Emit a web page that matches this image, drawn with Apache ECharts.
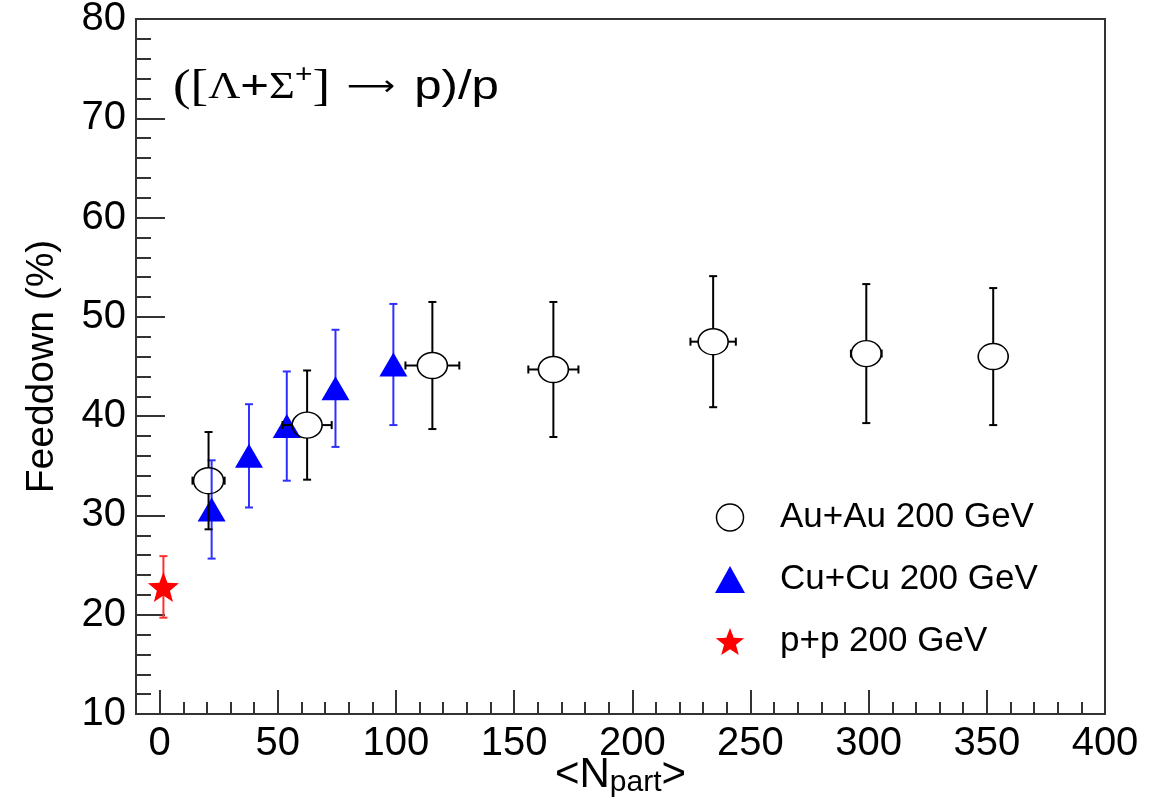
<!DOCTYPE html>
<html>
<head>
<meta charset="utf-8">
<script src="https://cdn.jsdelivr.net/npm/echarts@6/dist/echarts.min.js"></script>
<style>
  html, body { margin: 0; padding: 0; background: #fff; }
  #chart { width: 1149px; height: 804px; }
</style>
</head>
<body>
<div id="chart"></div>
<script>
// ---- data ----
const auNpart = [20.7, 62.4, 115.4, 166.6, 234.2, 299.0, 352.7];
const auFeed  = [33.5, 39.1, 45.1, 44.7, 47.5, 46.3, 46.0];
const auErrY  = [4.9, 5.5, 6.4, 6.8, 6.6, 7.0, 6.9];
const auErrX  = [6.8, 10.4, 11.4, 10.6, 9.6, 6.5, 0];

const cuNpart = [22.0, 37.8, 53.8, 74.4, 98.9];
const cuFeed  = [30.6, 36.0, 39.0, 42.8, 45.2];
const cuErrY  = [4.95, 5.2, 5.5, 5.9, 6.1];
const cuErrX  = [0, 0, 0, 0, 0];

const ppNpart = [1.6];
const ppFeed  = [22.8];
const ppErrY  = [3.1];
const ppErrX  = [0];

const seriesNames = ['Au+Au 200 GeV', 'Cu+Cu 200 GeV', 'p+p 200 GeV'];
const xMajorTicks = [0, 50, 100, 150, 200, 250, 300, 350, 400];
const xMinorTicks = [10, 20, 30, 40, 60, 70, 80, 90, 110, 120, 130, 140, 160, 170, 180, 190,
                     210, 220, 230, 240, 260, 270, 280, 290, 310, 320, 330, 340, 360, 370, 380, 390];

const STAR = 'path://M50 0 L62.5 33 L97.55 34.55 L70 56.5 L79.39 90.45 L50 71 L20.61 90.45 L30 56.5 L2.45 34.55 L37.5 33 Z';
const SANS = 'Liberation Sans';
const SERIF = 'Liberation Serif';

function rows(xs, ys, eys, exs) {
  return xs.map((x, i) => [x, ys[i], eys[i], exs[i]]);
}
function points(xs, ys) {
  return xs.map((x, i) => [x, ys[i]]);
}

function errRender(color, width, gapY, gapX, cap) {
  return function (params, api) {
    const x = api.value(0), y = api.value(1), ey = api.value(2), ex = api.value(3);
    const c = api.coord([x, y]);
    const t = api.coord([x, y + ey]);
    const b = api.coord([x, y - ey]);
    const l = api.coord([x - ex, y]);
    const r = api.coord([x + ex, y]);
    const style = { stroke: color, lineWidth: width, fill: null };
    const ch = [];
    if (ey > 0) {
      if (t[1] < c[1] - gapY) ch.push({ type: 'line', shape: { x1: c[0], y1: t[1], x2: c[0], y2: c[1] - gapY }, style });
      if (b[1] > c[1] + gapY) ch.push({ type: 'line', shape: { x1: c[0], y1: c[1] + gapY, x2: c[0], y2: b[1] }, style });
      ch.push({ type: 'line', shape: { x1: c[0] - cap, y1: t[1], x2: c[0] + cap, y2: t[1] }, style });
      ch.push({ type: 'line', shape: { x1: c[0] - cap, y1: b[1], x2: c[0] + cap, y2: b[1] }, style });
    }
    if (ex > 0) {
      if (l[0] < c[0] - gapX) ch.push({ type: 'line', shape: { x1: l[0], y1: c[1], x2: c[0] - gapX, y2: c[1] }, style });
      if (r[0] > c[0] + gapX) ch.push({ type: 'line', shape: { x1: c[0] + gapX, y1: c[1], x2: r[0], y2: c[1] }, style });
      ch.push({ type: 'line', shape: { x1: l[0], y1: c[1] - cap, x2: l[0], y2: c[1] + cap }, style });
      ch.push({ type: 'line', shape: { x1: r[0], y1: c[1] - cap, x2: r[0], y2: c[1] + cap }, style });
    }
    return { type: 'group', children: ch };
  };
}

const chart = echarts.init(document.getElementById('chart'), null, { renderer: 'canvas' });

const axisLineStyle = { color: '#333', width: 2 };

chart.setOption({
  animation: false,
  backgroundColor: '#fff',
  graphic: [
    {
      type: 'text',
      left: 173,
      top: 63,
      scaleX: 1.2,
      z: 100,
      style: {
        text: '{s|([}{g|Λ}{p|+}{g|Σ}{sup|+}{s|]}{a|⟶}{p|p)/p}',
        rich: {
          s: { fontFamily: SERIF, fontSize: 44, fill: '#000', lineHeight: 50 },
          g: { fontFamily: SERIF, fontSize: 37, fill: '#000', lineHeight: 50 },
          a: { fontFamily: 'DejaVu Sans', fontSize: 28, fill: '#000', lineHeight: 50, padding: [0, 16, 0, 14] },
          p: { fontFamily: SANS, fontSize: 41, fill: '#000', lineHeight: 50 },
          sup: { fontFamily: SANS, fontSize: 25, fill: '#000', lineHeight: 25, verticalAlign: 'top', padding: [0, 0, 22, 0] }
        }
      }
    }
  ],
  legend: {
    orient: 'vertical',
    left: 710,
    top: 495,
    itemWidth: 30,
    itemHeight: 27,
    itemGap: 27,
    selectedMode: false,
    textStyle: { fontFamily: SANS, fontSize: 35, color: '#000', padding: [0, 0, 0, 30] },
    data: [
      { name: seriesNames[0], icon: 'circle', itemStyle: { color: 'rgba(255,255,255,0)', borderColor: '#000', borderWidth: 1.5 } },
      { name: seriesNames[1], icon: 'triangle', itemStyle: { color: '#0000ff' } },
      { name: seriesNames[2], icon: STAR, itemStyle: { color: '#ff0000' } }
    ]
  },
  grid: {
    left: 136, right: 44, top: 19, bottom: 90,
    outerBoundsMode: 'none',
    containLabel: false,
    show: true, borderColor: '#333', borderWidth: 2, backgroundColor: '#fff'
  },
  xAxis: [
    {
      type: 'value', min: -10, max: 400, position: 'bottom',
      axisLine: { show: true, onZero: false, lineStyle: axisLineStyle },
      axisTick: { show: true, inside: true, length: 24, customValues: xMajorTicks, lineStyle: axisLineStyle },
      axisLabel: { customValues: xMajorTicks, fontFamily: SANS, fontSize: 40, color: '#000', margin: 10 },
      splitLine: { show: false },
      name: '{n|<N}{sub|part}{n|>}',
      nameLocation: 'middle',
      nameGap: 38,
      nameMoveOverlap: false,
      nameTextStyle: {
        rich: {
          n: { fontFamily: SANS, fontSize: 42, color: '#000', lineHeight: 46 },
          sub: { fontFamily: SANS, fontSize: 30, color: '#000', lineHeight: 30, verticalAlign: 'bottom', padding: [14, 0, 0, 0] }
        }
      }
    },
    {
      type: 'value', min: -10, max: 400, position: 'bottom', gridIndex: 0,
      axisLine: { show: false },
      axisTick: { show: true, inside: true, length: 12, customValues: xMinorTicks, lineStyle: axisLineStyle },
      axisLabel: { show: false },
      splitLine: { show: false }
    }
  ],
  yAxis: {
    type: 'value', min: 10, max: 80, interval: 10,
    axisLine: { show: true, onZero: false, lineStyle: axisLineStyle },
    axisTick: { show: true, inside: true, length: 29, lineStyle: axisLineStyle },
    minorTick: { show: true, splitNumber: 5, length: 15, lineStyle: axisLineStyle },
    axisLabel: { fontFamily: SANS, fontSize: 40, color: '#000', margin: 10 },
    splitLine: { show: false },
    name: 'Feeddown (%)',
    nameLocation: 'middle',
    nameGap: 74,
    nameMoveOverlap: false,
    nameTextStyle: { fontFamily: SANS, fontSize: 39, color: '#000' }
  },
  series: [
    {
      name: 'cu-err', type: 'custom', z: 1, silent: true,
      renderItem: errRender('#2f2fff', 2, 0, 0, 4),
      encode: { x: 0, y: 1 },
      data: rows(cuNpart, cuFeed, cuErrY, cuErrX)
    },
    {
      name: seriesNames[1], type: 'scatter', z: 2, silent: true,
      symbol: 'triangle', symbolSize: [28, 24],
      itemStyle: { color: '#0000ff', opacity: 1 },
      data: points(cuNpart, cuFeed)
    },
    {
      name: 'au-err', type: 'custom', z: 3, silent: true,
      renderItem: errRender('#000', 2, 13, 15, 4),
      encode: { x: 0, y: 1 },
      data: rows(auNpart, auFeed, auErrY, auErrX)
    },
    {
      name: seriesNames[0], type: 'scatter', z: 4, silent: true,
      symbol: 'circle', symbolSize: [30, 26],
      itemStyle: { color: 'rgba(255,255,255,0)', borderColor: '#000', borderWidth: 1.5, opacity: 1 },
      data: points(auNpart, auFeed)
    },
    {
      name: 'pp-err', type: 'custom', z: 5, silent: true,
      renderItem: errRender('#ff3030', 2, 0, 0, 4),
      encode: { x: 0, y: 1 },
      data: rows(ppNpart, ppFeed, ppErrY, ppErrX)
    },
    {
      name: seriesNames[2], type: 'scatter', z: 6, silent: true,
      symbol: STAR, symbolSize: [31, 30],
      itemStyle: { color: '#ff0000', opacity: 1 },
      data: points(ppNpart, ppFeed)
    }
  ]
});
</script>
</body>
</html>
